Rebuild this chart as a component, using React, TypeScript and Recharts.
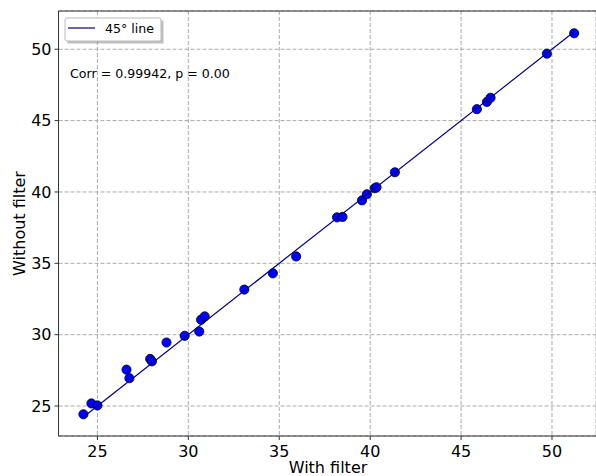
import React from 'react';
import { ScatterChart, Scatter, XAxis, YAxis, CartesianGrid, ReferenceLine } from 'recharts';

const withFilter = [24.23, 24.67, 25.0, 26.6, 26.76, 27.9, 28.0, 28.8, 29.8, 30.6, 30.7, 30.9, 33.08, 34.65, 35.93, 38.18, 38.48, 39.55, 39.82, 40.25, 40.35, 41.36, 45.87, 46.42, 46.62, 49.72, 51.22];
const withoutFilter = [24.42, 25.18, 25.04, 27.55, 26.95, 28.3, 28.13, 29.45, 29.92, 30.22, 31.05, 31.28, 33.16, 34.3, 35.48, 38.22, 38.25, 39.41, 39.84, 40.26, 40.33, 41.38, 45.8, 46.31, 46.6, 49.69, 51.12];
const xTicks = [25, 30, 35, 40, 45, 50];
const yTicks = [25, 30, 35, 40, 45, 50];
const legendLabel = '45° line';
const statsText = 'Corr = 0.99942, p = 0.00';
const xLabel = 'With filter';
const yLabel = 'Without filter';

const points = withFilter.map((x, i) => ({ x, y: withoutFilter[i] }));
const lo = Math.min(...withFilter, ...withoutFilter);
const hi = Math.max(...withFilter, ...withoutFilter);
const lineData = [{ x: lo, y: lo }, { x: hi, y: hi }];

const FONT = '"DejaVu Sans", sans-serif';
const X_DOMAIN: [number, number] = [22.86, 52.42];
const Y_DOMAIN: [number, number] = [22.9, 52.68];

const Dot = (props: any) => (
  <circle cx={props.cx} cy={props.cy} r={4.6} fill="#0000ff" stroke="#000" strokeWidth={0.8} />
);

export default function App() {
  return (
    <div style={{ position: 'absolute', left: 0, top: 0, width: 596, height: 476, background: '#fff' }}>
      <ScatterChart width={596} height={476} margin={{ top: 11, right: 0, bottom: 0, left: 0 }}>
        <CartesianGrid stroke="#a0a0a0" strokeDasharray="4 2" strokeWidth={0.9} />
        <XAxis
          type="number"
          dataKey="x"
          domain={X_DOMAIN}
          ticks={xTicks}
          allowDataOverflow
          height={40}
          tickSize={4}
          tickMargin={6}
          stroke="#333"
          tick={{ fill: '#000', fontSize: 16, fontFamily: FONT }}
        />
        <YAxis
          type="number"
          dataKey="y"
          domain={Y_DOMAIN}
          ticks={yTicks}
          allowDataOverflow
          width={58.5}
          tickSize={4}
          tickMargin={3}
          stroke="#333"
          tick={{ fill: '#000', fontSize: 16, fontFamily: FONT }}
        />
        <ReferenceLine y={Y_DOMAIN[1]} stroke="#333" strokeWidth={1} />
        <Scatter data={points} shape={Dot} isAnimationActive={false} />
        <Scatter
          data={lineData}
          line={{ stroke: '#000080', strokeWidth: 1.2 }}
          shape={() => null}
          isAnimationActive={false}
        />
        <text x={328} y={472.5} textAnchor="middle" fontSize={16} fontFamily={FONT} fill="#000">{xLabel}</text>
        <text x={25} y={223.5} textAnchor="middle" fontSize={16} fontFamily={FONT} fill="#000" transform="rotate(-90 25 223.5)">{yLabel}</text>
        <rect x={67.5} y={20.5} width={96} height={23} fill="#808080" opacity={0.5} />
        <rect x={65} y={18} width={96} height={23} fill="#fff" stroke="#bbb" strokeWidth={1} rx={2} />
        <line x1={68} y1={28} x2={95} y2={28} stroke="#000080" strokeWidth={1.2} />
        <text x={105} y={33} fontSize={12.6} fontFamily={FONT} fill="#000">{legendLabel}</text>
        <text x={70} y={78} fontSize={12.6} fontFamily={FONT} fill="#000">{statsText}</text>
      </ScatterChart>
    </div>
  );
}
